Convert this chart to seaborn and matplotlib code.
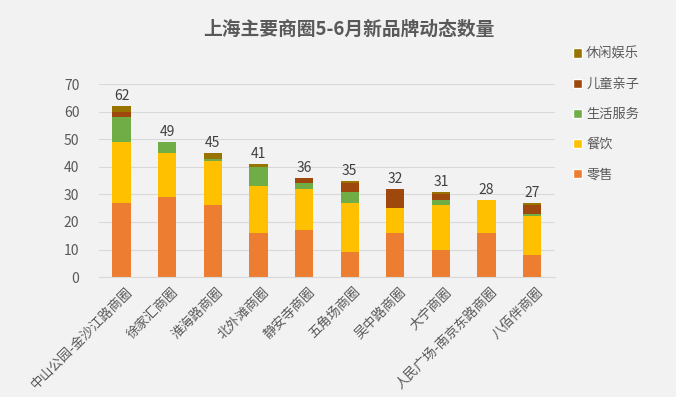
import numpy as np
import pandas as pd
import seaborn as sns
import matplotlib.pyplot as plt
from matplotlib.patches import Patch
from matplotlib.transforms import ScaledTranslation

areas = ["中山公园-金沙江路商圈", "徐家汇商圈", "淮海路商圈", "北外滩商圈", "静安寺商圈",
         "五角场商圈", "吴中路商圈", "大宁商圈", "人民广场-南京东路商圈", "八佰伴商圈"]
retail = [27, 29, 26, 16, 17, 9, 16, 10, 16, 8]      # 零售
dining = [22, 16, 16, 17, 15, 18, 9, 16, 12, 14]     # 餐饮
life = [9, 4, 1, 7, 2, 4, 0, 2, 0, 1]                # 生活服务
kids = [2, 0, 0, 0, 2, 3, 7, 2, 0, 3]                # 儿童亲子
leisure = [2, 0, 2, 1, 0, 1, 0, 1, 0, 1]             # 休闲娱乐

series = ["零售", "餐饮", "生活服务", "儿童亲子", "休闲娱乐"]
colors = ["#ED7D31", "#FFC000", "#70AD47", "#9E480E", "#997300"]

df = pd.DataFrame({"area": areas, "零售": retail, "餐饮": dining, "生活服务": life,
                   "儿童亲子": kids, "休闲娱乐": leisure})
cum = df[series].cumsum(axis=1)
totals = cum["休闲娱乐"]

sns.set_style("white")
plt.rcParams["font.family"] = ["Noto Sans CJK SC", "DejaVu Sans"]

fig = plt.figure(figsize=(6.76, 3.97), dpi=100, facecolor="#F2F2F2")
ax = fig.add_axes([0.146, 0.302, 0.675, 0.486])
ax.set_facecolor("#F2F2F2")

# stacked look: draw cumulative heights from the top layer down
for s, c in reversed(list(zip(series, colors))):
    sns.barplot(x=df["area"], y=cum[s], color=c, width=0.4, saturation=1,
                linewidth=0, edgecolor="none", ax=ax)

for i, t in enumerate(totals):
    ax.text(i, t + 1, str(t), ha="center", va="bottom", fontsize=10, color="#404040")

ax.set_ylim(0, 70)
ax.set_xlim(-0.5, 9.5)
ax.set_yticks(range(0, 71, 10))
ax.yaxis.grid(True, color="#D9D9D9", linewidth=0.8)
ax.set_axisbelow(True)
for sp in ["top", "right", "left"]:
    ax.spines[sp].set_visible(False)
ax.spines["bottom"].set_color("#D9D9D9")
ax.set_xlabel("")
ax.set_ylabel("")
ax.tick_params(axis="both", length=0, colors="#595959", labelsize=10)
ax.tick_params(axis="y", pad=14)
ax.tick_params(axis="x", pad=6)
shift = ScaledTranslation(3 / 72, 0, fig.dpi_scale_trans)
for lab in ax.get_xticklabels():
    lab.set_rotation(45)
    lab.set_ha("right")
    lab.set_rotation_mode("anchor")
    lab.set_fontsize(9.5)
    lab.set_transform(lab.get_transform() + shift)

fig.text(0.516, 0.925, "上海主要商圈5-6月新品牌动态数量", ha="center", va="center",
         fontsize=13.5, fontweight="bold", color="#595959")

handles = [Patch(facecolor=c, label=s) for s, c in zip(series, colors)][::-1]
fig.legend(handles=handles, loc="upper left", bbox_to_anchor=(0.83, 0.91), frameon=False,
           fontsize=9.5, labelcolor="#595959", handlelength=0.7, handleheight=0.7,
           handletextpad=0.3, labelspacing=1.3)

plt.savefig("out.png", dpi=100, facecolor=fig.get_facecolor())
